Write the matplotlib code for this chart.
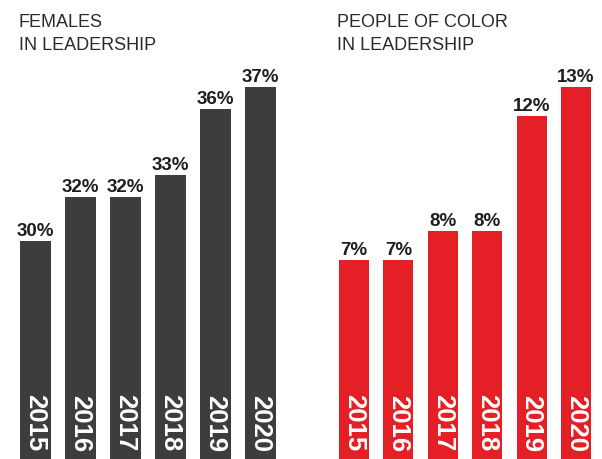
import matplotlib
matplotlib.use("Agg")
import matplotlib.pyplot as plt

years = ["2015", "2016", "2017", "2018", "2019", "2020"]
females = [30, 32, 32, 33, 36, 37]
poc = [7, 7, 8, 8, 12, 13]
title_left = "FEMALES\nIN LEADERSHIP"
title_right = "PEOPLE OF COLOR\nIN LEADERSHIP"

GRAY = "#3c3d3d"
RED = "#e41f26"
TXT = "#1e1e1e"

W, H = 602, 460
fig = plt.figure(figsize=(W / 100, H / 100), dpi=100)

def panel(x0, x1, width_frac, values, color, ybottom, px_per_unit, title, title_x):
    ax = fig.add_axes([x0 / W, 0, (x1 - x0) / W, 1])
    xs = list(range(len(values)))
    ax.bar(xs, values, width=width_frac, color=color, bottom=0)
    ax.set_xlim(-width_frac / 2, len(values) - 1 + width_frac / 2)
    ax.set_ylim(ybottom, ybottom + H / px_per_unit)
    ax.axis("off")
    for x, v, yr in zip(xs, values, years):
        ax.annotate(f"{v}%", (x, v), xytext=(0, 1.5), textcoords="offset points",
                    ha="center", va="bottom", fontsize=13.5, fontweight="bold",
                    family="Liberation Sans", color=TXT)
        ax.annotate(yr, (x, ybottom), xytext=(0, 6), textcoords="offset points",
                    ha="center", va="bottom", rotation=-90, fontsize=18.5,
                    fontweight="bold", family="Liberation Sans", color="white")
    fig.text(title_x / W, 1 - 14 / H, title, ha="left", va="top",
             fontsize=13, family="Liberation Sans", color="#2a2a2a",
             linespacing=1.45)
    return ax

panel(20, 276, 31 / 45, females, GRAY, 20.11, 22.04, title_left, 19)
panel(339, 591, 30 / 44.4, poc, RED, 0.12, 28.9, title_right, 337)

fig.savefig("out.png", dpi=100)
